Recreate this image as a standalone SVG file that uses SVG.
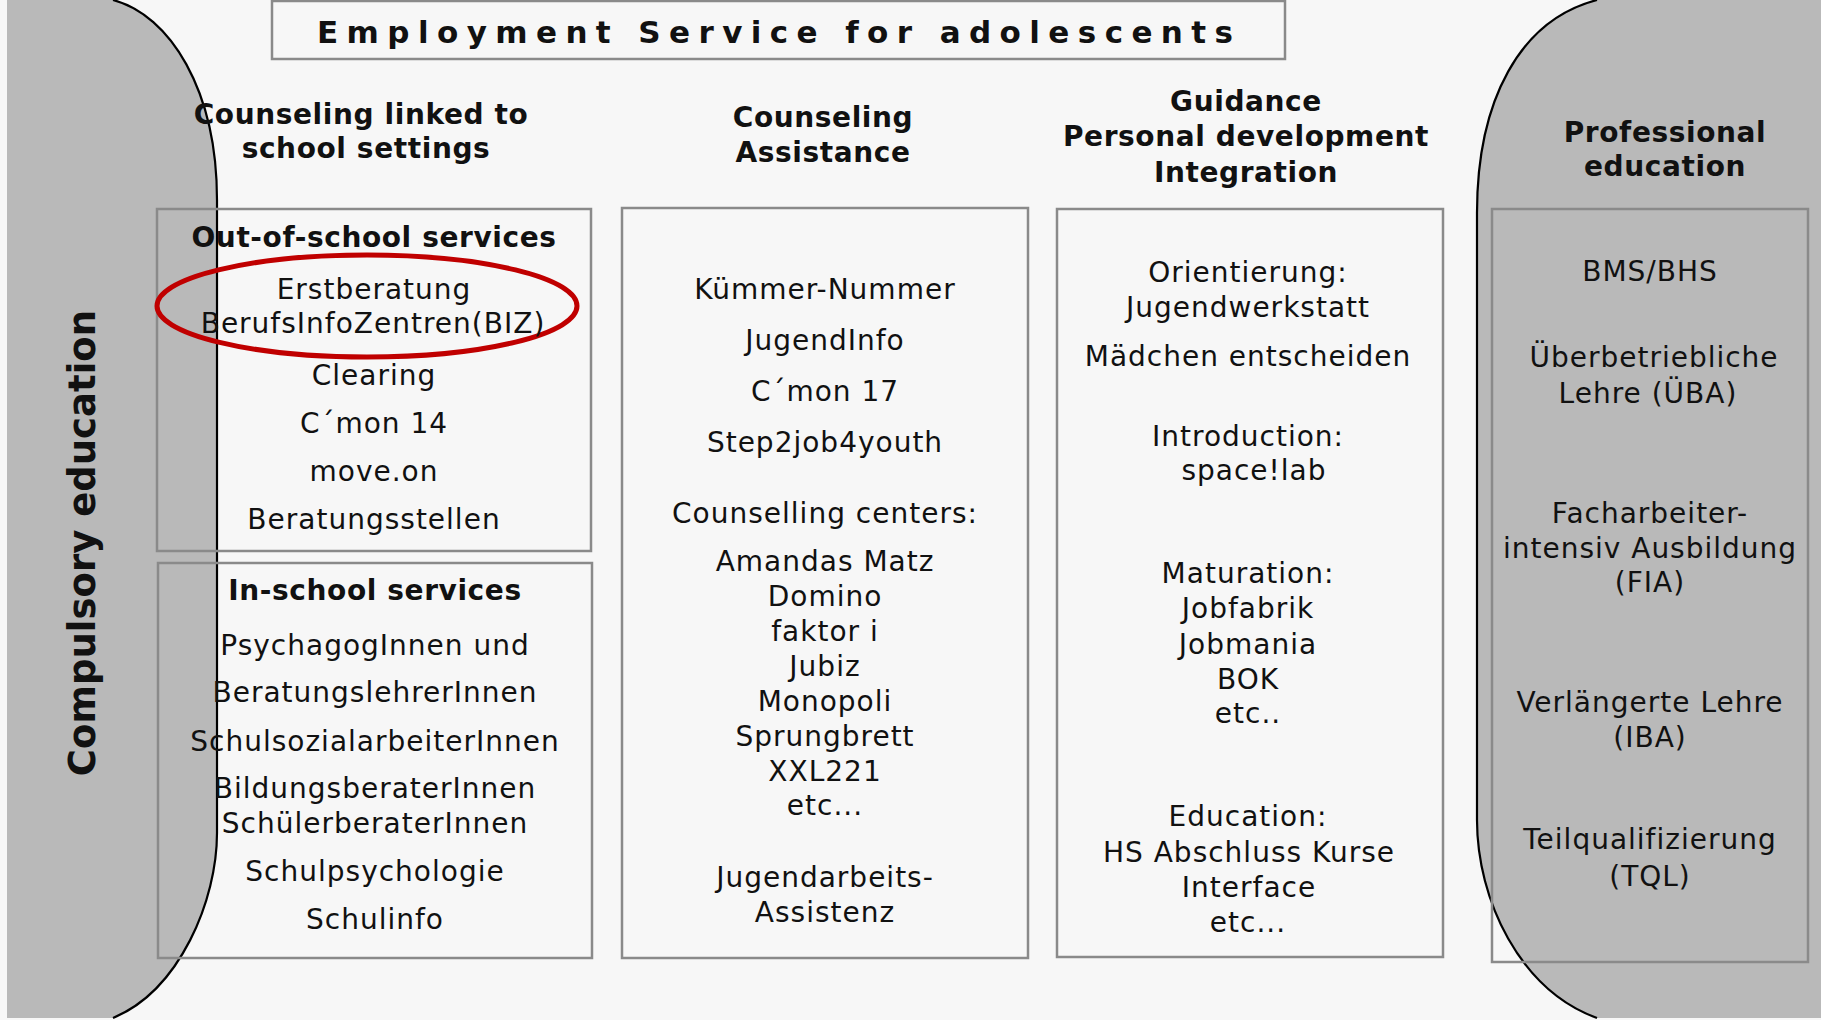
<svg xmlns="http://www.w3.org/2000/svg" width="1821" height="1020" viewBox="0 0 1821 1020">
<defs>
<style>
.t{font-family:"DejaVu Sans",Verdana,sans-serif;font-size:28px;fill:#111;text-anchor:middle;letter-spacing:1px}
.b{font-weight:bold;letter-spacing:0.6px}
.box{fill:none;stroke:#8a8a8a;stroke-width:2.5}
.edge{fill:none;stroke:#000;stroke-width:2.2}
.band{fill:#b9b9b9;stroke:none}
</style>
</defs>
<rect x="0" y="0" width="1821" height="1020" fill="#f7f7f7"/>

<g id="compulsory-education">
<path class="band" d="M7,0 L113,0 C170,15 217,90 217,200 L217,833 C217,900 180,990 113,1018 L7,1018 Z"/>
<path class="edge" d="M113,0 C170,15 217,90 217,200 L217,833 C217,900 180,990 113,1018"/>
<text class="t b" style="font-size:37px;letter-spacing:0" transform="translate(95,543) rotate(-90)" x="0" y="0">Compulsory education</text>
</g>

<g id="professional-education">
<path class="band" d="M1821,0 L1597,0 C1520,20 1477,100 1477,213 L1477,820 C1477,900 1520,990 1597,1018 L1821,1018 Z"/>
<path class="edge" d="M1597,0 C1520,20 1477,100 1477,213 L1477,820 C1477,900 1520,990 1597,1018"/>
<text class="t b" x="1665" y="142">Professional</text>
<text class="t b" x="1665" y="176">education</text>
<rect class="box" x="1492" y="209" width="316" height="753"/>
<text class="t" x="1650" y="281">BMS/BHS</text>
<text class="t" x="1654" y="367">Überbetriebliche</text>
<text class="t" x="1648" y="403">Lehre (ÜBA)</text>
<text class="t" x="1650" y="523">Facharbeiter-</text>
<text class="t" x="1650" y="558">intensiv Ausbildung</text>
<text class="t" x="1650" y="592">(FIA)</text>
<text class="t" x="1650" y="712">Verlängerte Lehre</text>
<text class="t" x="1650" y="747">(IBA)</text>
<text class="t" x="1650" y="849">Teilqualifizierung</text>
<text class="t" x="1650" y="886">(TQL)</text>
</g>

<g id="title">
<rect class="box" x="272" y="1" width="1013" height="58"/>
<text class="t b" style="font-size:31px;text-anchor:start;letter-spacing:0" x="317" y="43" textLength="916" lengthAdjust="spacing">Employment Service for adolescents</text>
</g>

<g id="school-settings">
<text class="t b" x="361" y="124">Counseling linked to</text>
<text class="t b" x="366" y="158">school settings</text>
</g>

<g id="out-of-school">
<rect class="box" x="157" y="209" width="434" height="342"/>
<text class="t b" x="374" y="247">Out-of-school services</text>
<ellipse cx="367" cy="306" rx="210" ry="51" fill="none" stroke="#c00000" stroke-width="5"/>
<text class="t" x="374" y="299">Erstberatung</text>
<text class="t" x="373" y="333">BerufsInfoZentren(BIZ)</text>
<text class="t" x="374" y="385">Clearing</text>
<text class="t" x="374" y="433">C´mon 14</text>
<text class="t" x="374" y="481">move.on</text>
<text class="t" x="374" y="529">Beratungsstellen</text>
</g>

<g id="in-school">
<rect class="box" x="158" y="563" width="434" height="395"/>
<text class="t b" x="375" y="600">In-school services</text>
<text class="t" x="375" y="655">PsychagogInnen und</text>
<text class="t" x="375" y="702">BeratungslehrerInnen</text>
<text class="t" x="375" y="751">SchulsozialarbeiterInnen</text>
<text class="t" x="375" y="798">BildungsberaterInnen</text>
<text class="t" x="375" y="833">SchülerberaterInnen</text>
<text class="t" x="375" y="881">Schulpsychologie</text>
<text class="t" x="375" y="929">Schulinfo</text>
</g>

<g id="counseling-assistance">
<text class="t b" x="823" y="127">Counseling</text>
<text class="t b" x="823" y="162">Assistance</text>
<rect class="box" x="622" y="208" width="406" height="750"/>
<text class="t" x="825" y="299">Kümmer-Nummer</text>
<text class="t" x="825" y="350">JugendInfo</text>
<text class="t" x="825" y="401">C´mon 17</text>
<text class="t" x="825" y="452">Step2job4youth</text>
<text class="t" x="825" y="523">Counselling centers:</text>
<text class="t" x="825" y="571">Amandas Matz</text>
<text class="t" x="825" y="606">Domino</text>
<text class="t" x="825" y="641">faktor i</text>
<text class="t" x="825" y="676">Jubiz</text>
<text class="t" x="825" y="711">Monopoli</text>
<text class="t" x="825" y="746">Sprungbrett</text>
<text class="t" x="825" y="781">XXL221</text>
<text class="t" x="825" y="815">etc...</text>
<text class="t" x="825" y="887">Jugendarbeits-</text>
<text class="t" x="825" y="922">Assistenz</text>
</g>

<g id="guidance">
<text class="t b" x="1246" y="111">Guidance</text>
<text class="t b" x="1246" y="146">Personal development</text>
<text class="t b" x="1246" y="182">Integration</text>
<rect class="box" x="1057" y="209" width="386" height="748"/>
<text class="t" x="1248" y="282">Orientierung:</text>
<text class="t" x="1248" y="317">Jugendwerkstatt</text>
<text class="t" x="1248" y="366">Mädchen entscheiden</text>
<text class="t" x="1248" y="446">Introduction:</text>
<text class="t" x="1254" y="480">space!lab</text>
<text class="t" x="1248" y="583">Maturation:</text>
<text class="t" x="1248" y="618">Jobfabrik</text>
<text class="t" x="1248" y="654">Jobmania</text>
<text class="t" x="1248" y="689">BOK</text>
<text class="t" x="1248" y="723">etc..</text>
<text class="t" x="1248" y="826">Education:</text>
<text class="t" x="1249" y="862">HS Abschluss Kurse</text>
<text class="t" x="1249" y="897">Interface</text>
<text class="t" x="1248" y="932">etc...</text>
</g>

<g id="connectors"></g>
</svg>
